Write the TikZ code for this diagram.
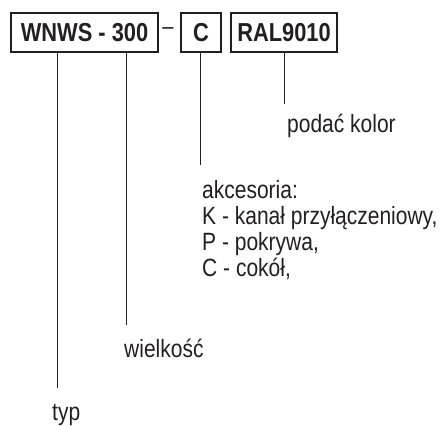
\documentclass[tikz,border=0pt]{standalone}
\usepackage{fontspec}
\setmainfont{Liberation Sans}[FakeStretch=0.84]
\definecolor{ink}{RGB}{35,31,32}

\begin{document}
\begin{tikzpicture}[
  x=1pt, y=-1pt,
  box/.style={rectangle, draw=ink, line width=1.8pt, text=ink, inner sep=0pt,
              minimum height=39pt, font=\fontsize{26}{30}\selectfont\bfseries},
  lbl/.style={anchor=base west, inner sep=0pt, text=ink, align=left,
              font=\fontsize{25}{26}\selectfont},
  lead/.style={draw=ink, line width=0.9pt}
]
\useasboundingbox (0,0) rectangle (446,426);
% code boxes
\node[box, minimum width=147pt] (wnws) at (84.5,32.5) {WNWS - 300};
\node[inner sep=0pt, text=ink, font=\fontsize{24}{26}\selectfont] (dash) at (168,31) {--};
\node[box, minimum width=40pt] (acc) at (201,32.5) {C};
\node[box, minimum width=106pt] (ral) at (284,32.5) {RAL9010};
% labels (base of a multi-line node = its last line)
\node[lbl] (kolor) at (287,132) {podać kolor};
\node[lbl] (akces) at (202,276) {akcesoria:\\K - kanał przyłączeniowy,\\P - pokrywa,\\C - cokół,};
\node[lbl] (wielk) at (124,357) {wielkość};
\node[lbl] (typ) at (52,420) {typ};
% leader ends
\coordinate (kolorend) at (284,104);
\coordinate (accend) at (200,165);
\coordinate (wielkend) at (126.7,325);
\coordinate (typend) at (57.5,388);
\draw[lead] (ral.south -| kolorend) -- (kolorend);
\draw[lead] (acc.south -| accend) -- (accend);
\draw[lead] (wnws.south -| wielkend) -- (wielkend);
\draw[lead] (wnws.south -| typend) -- (typend);
\end{tikzpicture}
\end{document}
